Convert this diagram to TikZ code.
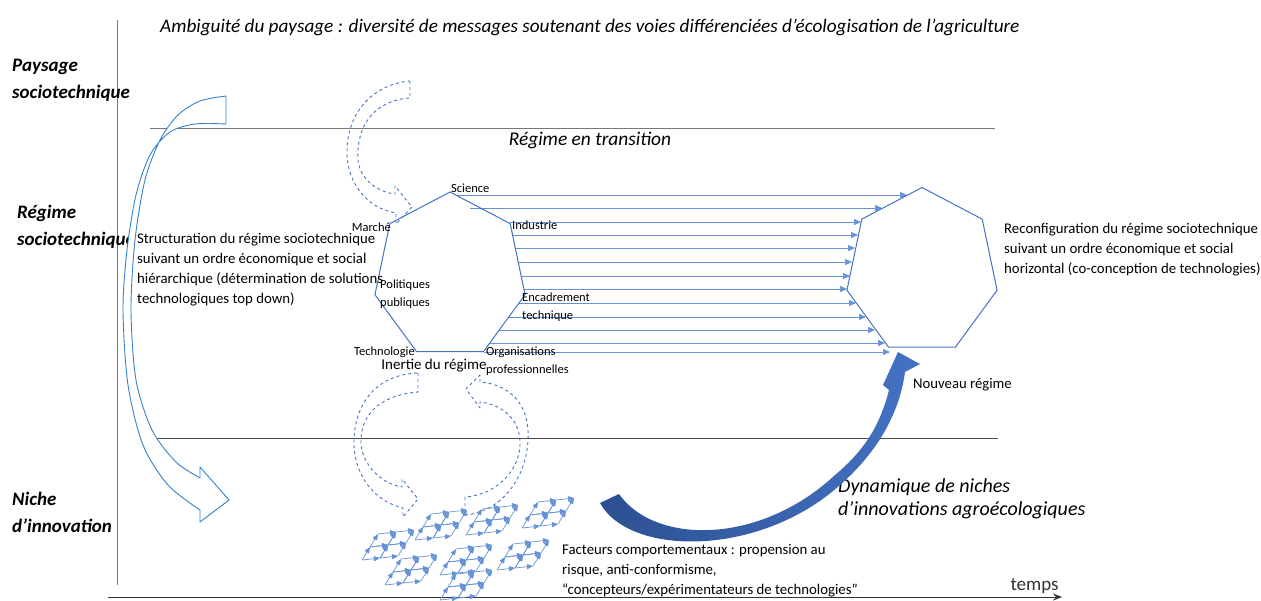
\documentclass[tikz,border=0pt]{standalone}
\usepackage{fontspec}
\setmainfont{Carlito}
\usetikzlibrary{arrows.meta}
\definecolor{hepblue}{RGB}{68,114,196}
\definecolor{flowblue}{RGB}{100,145,215}
\definecolor{curveblue}{RGB}{50,130,205}
\definecolor{darkblue}{RGB}{44,80,145}
\definecolor{axisgray}{RGB}{120,120,120}
\tikzset{
	flow/.style={flowblue,line width=0.7pt,-{Triangle[length=7pt,width=6pt]}},
	cellarrow/.style={flowblue,line width=0.7pt,-{Triangle[length=6pt,width=5pt]}},
	dashedarrow/.style={hepblue,dashed,line width=0.9pt,line join=round},
	heplabel/.style={font=\fontsize{12.5}{18}\selectfont,inner sep=0pt,align=left},
	bodytext/.style={font=\fontsize{14.8}{20}\selectfont,inner sep=0pt,align=left},
	levellabel/.style={font=\fontsize{19}{27}\selectfont\bfseries\itshape,inner sep=0pt,align=left},
}
\begin{document}
\begin{tikzpicture}[x=1pt,y=-1pt,>=stealth]
		\useasboundingbox (0,0) rectangle (1261,600);
		% axes and level separators
		\draw[axisgray,line width=0.8pt] (117,20)--(117,585);
		\draw[-{Stealth[length=9pt,width=7pt]},line width=0.8pt,black!80] (108,597)--(1062,597) node[above left,font=\fontsize{19}{19}\selectfont,inner sep=3pt] (temps) {temps};
		\draw[axisgray,line width=0.8pt] (150,128)--(995,128);
		\draw[black!70,line width=0.8pt] (155,438)--(998,438);
		\node[anchor=west,font=\fontsize{19.2}{19}\selectfont\itshape,inner sep=0pt] (title) at (160,27) {Ambiguité du paysage : diversité de messages soutenant des voies différenciées d’écologisation de l’agriculture};
		\node[levellabel,anchor=north west] (paysage) at (12,59) {Paysage\\sociotechnique};
		\node[levellabel,anchor=north west] (regime) at (17,205) {Régime\\sociotechnique};
		\node[levellabel,anchor=north west] (niche) at (12,492) {Niche\\d’innovation};
		\node[font=\fontsize{19.4}{19}\selectfont\itshape,inner sep=0pt] (transition) at (590,140) {Régime en transition};
		% heptagons
		\foreach \i/\a in {1/90,2/141.43,3/192.86,4/244.29,5/295.71,6/347.14,7/38.57}{
			\coordinate (hl\i) at ({450+77*cos(\a)},{276-84*sin(\a)});
			\coordinate (hr\i) at ({922+77*cos(\a)},{271.5-84*sin(\a)});
		}
		% flows between regimes
		\foreach \y/\xa/\xb in {195/456/907,208/470/882,222/510/861,235/513/858,248/515/855,262/518/852,276/521/850,289/524/847,303/519/856,317/509/866,330/499/875,343/490/885,352/484/890}
			\draw[flow] (\xa,\y)--(\xb,\y);
		\draw[hepblue,line width=1pt] (hl1)--(hl2)--(hl3)--(hl4)--(hl5)--(hl6)--(hl7)--cycle;
		\draw[hepblue,line width=1pt] (hr1)--(hr2)--(hr3)--(hr4)--(hr5)--(hr6)--(hr7)--cycle;
		\node[heplabel,anchor=base west] (science) at (451,192) {Science};
		\node[heplabel,anchor=base east] (marche) at (391,231) {Marché};
		\node[heplabel,anchor=base west] (industrie) at (512,229) {Industrie};
		\node[heplabel,anchor=west] (politiques) at (380,294) {Politiques\\publiques};
		\node[heplabel,anchor=west] (encadrement) at (522,307) {Encadrement\\technique};
		\node[heplabel,anchor=base east] (technologie) at (415,355) {Technologie};
		\node[heplabel,anchor=west] (organisations) at (486,361) {Organisations\\professionnelles};
		\node[font=\fontsize{15}{15}\selectfont,inner sep=0pt] (inertie) at (434,366) {Inertie du régime};
		\node[font=\fontsize{14.7}{15}\selectfont,inner sep=0pt,anchor=west] (nouveau) at (913,385) {Nouveau régime};
		% texts
		\node[bodytext,anchor=west] (structuration) at (137,270) {Structuration du régime sociotechnique\\suivant un ordre économique et social\\hiérarchique (détermination de solutions\\technologiques top down)};
		\node[bodytext,anchor=west] (reconfiguration) at (1004,250) {Reconfiguration du régime sociotechnique\\suivant un ordre économique et social\\horizontal (co-conception de technologies)};
		\node[bodytext,anchor=west] (facteurs) at (562,571) {Facteurs comportementaux : propension au\\risque, anti-conformisme,\\“concepteurs/expérimentateurs de technologies”};
		\node[font=\fontsize{20}{23}\selectfont\itshape,inner sep=0pt,align=left,anchor=west] (dynamique) at (838,499) {Dynamique de niches\\d’innovations agroécologiques};
		% structuring arrow, landscape to niche
		\draw[curveblue,line width=0.9pt,line join=round,fill=white]
			plot[smooth] coordinates {(226,96) (200,101) (178,115) (160,140) (145,180) (135,240) (131,310) (136,380) (152,430) (176,462) (200,478)}
			--(200,467)--(229,500)--(200,522)--(200,510)
			--plot[smooth] coordinates {(200,510) (168,485) (143,445) (128,385) (123,310) (127,250) (136,195) (150,155) (170,132) (195,124) (226,124)}
			--cycle;
		% dashed arrows
		\draw[dashedarrow] (410,81)--(410,98) .. controls (375,100) and (356,125) .. (358,160) .. controls (360,180) and (378,192) .. (395,194)
			--(395,186)--(412,207)--(396,224)--(396,213) .. controls (365,208) and (346,180) .. (347,150) .. controls (348,110) and (375,84) .. (410,81);
		\draw[dashedarrow] (418,373)--(418,392) .. controls (380,395) and (360,415) .. (361,443) .. controls (362,465) and (382,484) .. (402,487)
			--(402,479)--(418,499)--(403,517)--(403,508) .. controls (370,500) and (353,470) .. (354,440) .. controls (355,400) and (380,374) .. (418,373);
		\draw[dashedarrow] (465,497)--(465,515) .. controls (500,512) and (526,480) .. (528,440) .. controls (530,410) and (515,385) .. (480,382)
			--(480,375)--(466,389)--(480,408)--(480,402) .. controls (505,405) and (521,422) .. (520,445) .. controls (519,472) and (495,495) .. (465,497);
		% niches network
		\foreach \cx/\cy in {362/560,415/540,466/535,522/528,385/585,440/575,497/570,440/600}
			\foreach \i in {0,1}
				\foreach \j in {0,1}{
					\pgfmathsetmacro\px{\cx+18*\i+8*\j}
					\pgfmathsetmacro\py{\cy-2*\i-13*\j}
					\draw[cellarrow] (\px,\py)--++(18,-2);
					\draw[cellarrow] (\px,\py)--++(8,-13);
					\draw[cellarrow] (\px+8,\py-13)--++(18,-2);
					\draw[cellarrow] (\px+18,\py-2)--++(8,-13);
				}
		% niche dynamics arrow
		\shade[left color=darkblue,right color=hepblue] (600,503) .. controls (630,557) and (760,557) .. (840,485) .. controls (880,450) and (900,410) .. (905,372)
			--(920,364)--(898,352)--(883,385)--(889,390) .. controls (880,425) and (865,450) .. (835,475) .. controls (760,545) and (655,545) .. (619,494)--cycle;
\end{tikzpicture}
\end{document}
